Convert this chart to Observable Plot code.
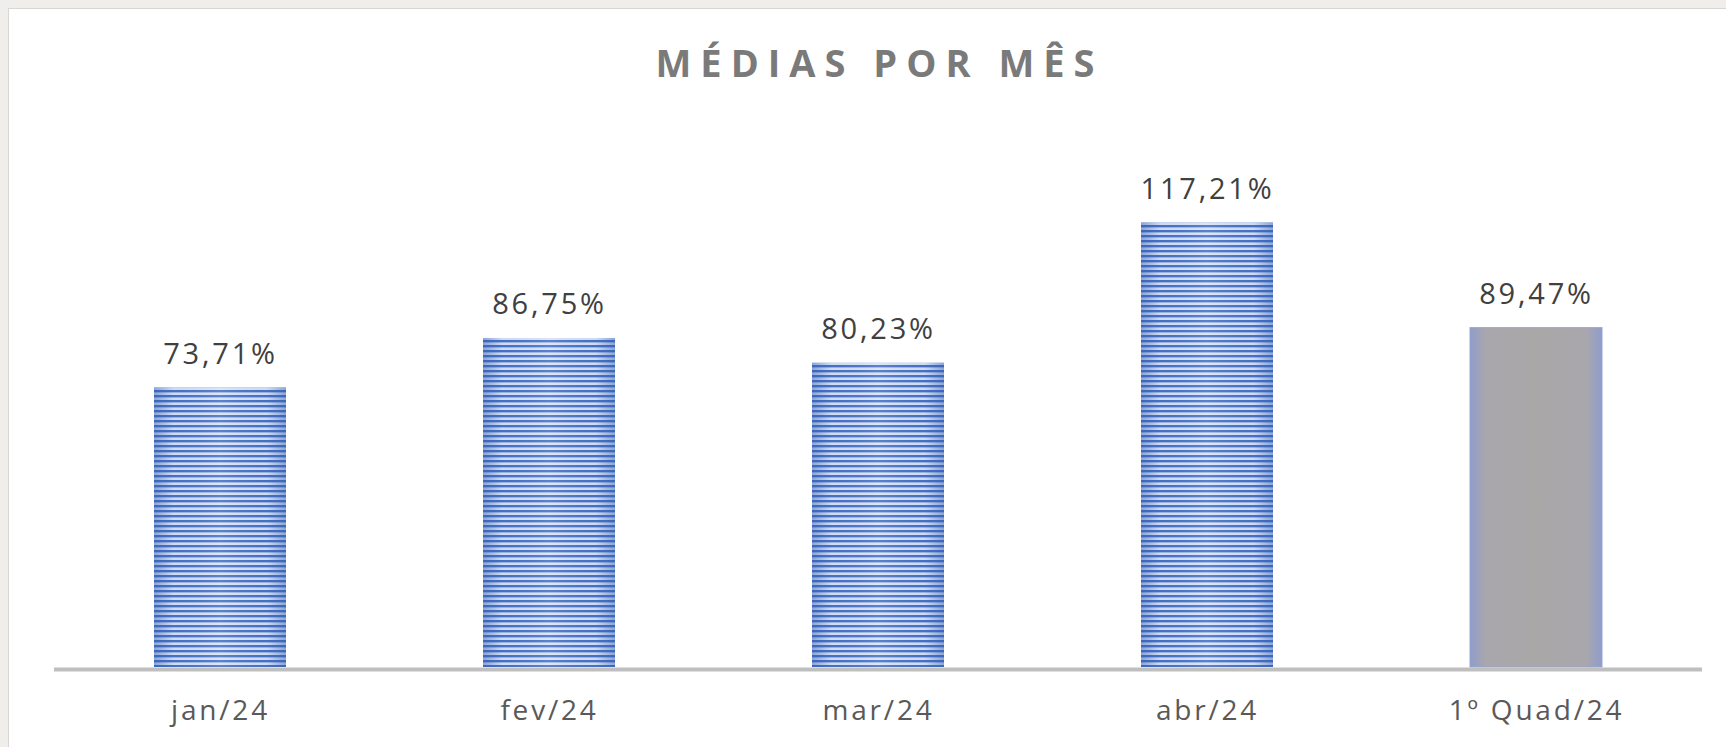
<!DOCTYPE html>
<html>
<head>
<meta charset="utf-8">
<script src="https://cdn.jsdelivr.net/npm/d3@7"></script>
<script src="https://cdn.jsdelivr.net/npm/@observablehq/plot@0.6"></script>
<style>
  html, body { margin: 0; padding: 0; background: #efeeea; }
  #frame {
    position: absolute; left: 8px; top: 8px; right: 0; bottom: 0;
    background: #ffffff; border-left: 1px solid #d6d6d2; border-top: 1px solid #d6d6d2;
  }
  #wrap { position: absolute; left: 0; top: 0; width: 1726px; height: 747px; }
  #title {
    height: 100px; width: 1726px; box-sizing: border-box;
    padding-top: 43px; padding-left: 33px;
    text-align: center;
    font-family: "Open Sans", sans-serif; font-weight: 700; font-size: 38px;
    letter-spacing: 9px; color: #7a7a7a; line-height: 38px;
  }
  #chart svg { display: block; }
</style>
</head>
<body>
<div id="frame"></div>
<div id="wrap">
  <div id="title">MÉDIAS POR MÊS</div>
  <div id="chart"></div>
</div>
<script>
const categorias = ["jan/24", "fev/24", "mar/24", "abr/24", "1º Quad/24"];
const valores = [73.71, 86.75, 80.23, 117.21, 89.47];
const tipos = ["mês", "mês", "mês", "mês", "quadrimestre"];

const dados = categorias.map((c, i) => ({
  categoria: c,
  valor: valores[i],
  tipo: tipos[i],
  rotulo: valores[i].toFixed(2).replace(".", ",") + "%"
}));
const meses = dados.filter(d => d.tipo === "mês");
const quad = dados.filter(d => d.tipo !== "mês");

const plot = Plot.plot({
  width: 1726,
  height: 647,
  marginLeft: 54,
  marginRight: 24,
  marginTop: 36,
  marginBottom: 80,
  style: { fontFamily: "Open Sans, sans-serif", background: "transparent", overflow: "visible" },
  x: { domain: categorias, paddingInner: 0.6, paddingOuter: 0.3, label: null },
  y: { domain: [0, 140], axis: null },
  marks: [
    Plot.axisX({ tickSize: 0, tickPadding: 33, fontSize: 28, fill: "#595959", label: null }),
    Plot.barY(meses, { x: "categoria", y: "valor", fill: "url(#listras)" }),
    Plot.barY(meses, { x: "categoria", y: "valor", fill: "url(#bordas)" }),
    Plot.barY(quad, { x: "categoria", y: "valor", fill: "url(#cinza)", stroke: "#97a4d0", strokeWidth: 1 }),
    Plot.ruleY([0], { stroke: "#bfbfbf", strokeWidth: 4, dy: 2 }),
    Plot.text(dados, { x: "categoria", y: "valor", text: "rotulo", lineAnchor: "bottom", dy: -24, fontSize: 29, fill: "#404040" })
  ]
});

// espaçamento entre letras
d3.select(plot).selectAll("text").style("letter-spacing", "2.8px");

// padrões / gradientes
const defs = d3.select(plot).insert("defs", ":first-child");
const pat = defs.append("pattern")
  .attr("id", "listras").attr("patternUnits", "userSpaceOnUse")
  .attr("width", 20).attr("height", 5);
pat.append("rect").attr("width", 20).attr("height", 5).attr("fill", "#d7e2f7");
pat.append("rect").attr("width", 20).attr("height", 2).attr("fill", "#4671c4");
pat.append("rect").attr("y", 2).attr("width", 20).attr("height", 0.7).attr("fill", "#88a5dd");

const g1 = defs.append("linearGradient").attr("id", "bordas")
  .attr("x1", 0).attr("x2", 1).attr("y1", 0).attr("y2", 0);
g1.append("stop").attr("offset", 0).attr("stop-color", "#2f5bb0").attr("stop-opacity", 0.45);
g1.append("stop").attr("offset", 0.15).attr("stop-color", "#2f5bb0").attr("stop-opacity", 0.05);
g1.append("stop").attr("offset", 0.5).attr("stop-color", "#ffffff").attr("stop-opacity", 0.12);
g1.append("stop").attr("offset", 0.85).attr("stop-color", "#2f5bb0").attr("stop-opacity", 0.05);
g1.append("stop").attr("offset", 1).attr("stop-color", "#2f5bb0").attr("stop-opacity", 0.45);

const g2 = defs.append("linearGradient").attr("id", "cinza")
  .attr("x1", 0).attr("x2", 1).attr("y1", 0).attr("y2", 0);
g2.append("stop").attr("offset", 0).attr("stop-color", "#8f9dcc");
g2.append("stop").attr("offset", 0.12).attr("stop-color", "#a9a7ad");
g2.append("stop").attr("offset", 0.5).attr("stop-color", "#aaa7a7");
g2.append("stop").attr("offset", 0.88).attr("stop-color", "#a9a7ad");
g2.append("stop").attr("offset", 1).attr("stop-color", "#8f9dcc");

document.getElementById("chart").appendChild(plot);
</script>
</body>
</html>
